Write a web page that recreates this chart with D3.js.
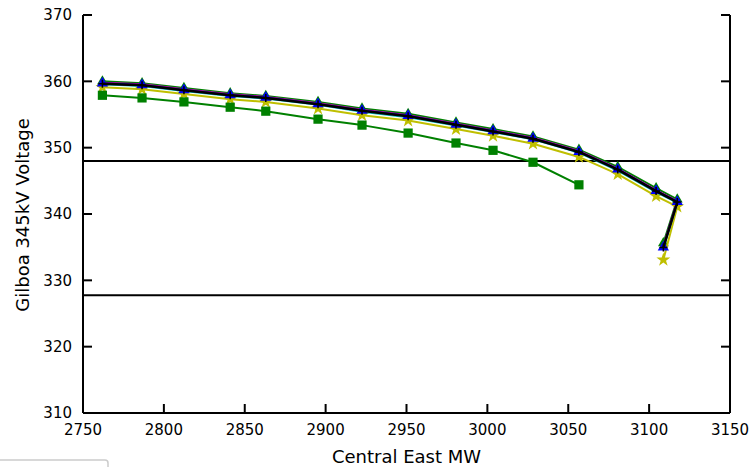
<!DOCTYPE html>
<html><head><meta charset="utf-8">
<script src="https://cdn.jsdelivr.net/npm/d3@7"></script>
<style>body{margin:0;background:#fff}svg{display:block}text{font-family:"DejaVu Sans",sans-serif;fill:#000}</style>
</head><body>
<script>
// ---- data ----
const xMW = [2762, 2786.5, 2812.4, 2841, 2863, 2895.3, 2922.5, 2951, 2980.6, 3003.5, 3028.2, 3056.6, 3080.6, 3104.3, 3117.4, 3108.8];
const greenV   = [360.0, 359.7, 359.0, 358.2, 357.8, 356.9, 355.9, 355.1, 353.8, 352.8, 351.7, 349.7, 347.1, 343.9, 342.2, 335.6];
const cyanV    = [359.55, 359.3, 358.55, 357.8, 357.4, 356.45, 355.4, 354.6, 353.35, 352.35, 351.25, 349.25, 346.55, 343.3, 341.7, 334.8];
const magentaV = [359.8, 359.55, 358.8, 358.05, 357.65, 356.7, 355.7, 354.9, 353.6, 352.6, 351.5, 349.5, 346.85, 343.6, 341.95, 335.1];
const redV     = [359.7, 359.45, 358.7, 357.95, 357.55, 356.6, 355.6, 354.8, 353.5, 352.5, 351.4, 349.4, 346.75, 343.5, 341.85, 335.0];
const blueV    = [359.7, 359.45, 358.7, 357.95, 357.55, 356.6, 355.6, 354.8, 353.5, 352.5, 351.4, 349.4, 346.75, 343.5, 341.85, 335.0];
const yellowV  = [359.1, 358.8, 358.1, 357.3, 356.9, 355.9, 354.9, 354.1, 352.8, 351.8, 350.6, 348.6, 346.0, 342.7, 341.1, 333.1];
const blackV   = [359.65, 359.4, 358.65, 357.9, 357.5, 356.55, 355.55, 354.75, 353.45, 352.45, 351.35, 349.35, 346.7, 343.45, 341.8, 334.95];
const squareX  = [2762, 2786.5, 2812.4, 2841, 2863, 2895.3, 2922.5, 2951, 2980.6, 3003.5, 3028.2, 3056.6];
const squareV  = [357.9, 357.5, 356.9, 356.1, 355.5, 354.3, 353.4, 352.2, 350.7, 349.6, 347.8, 344.4];
const limits   = [348, 327.75];
const xTicks = [2750, 2800, 2850, 2900, 2950, 3000, 3050, 3100, 3150];
const yTicks = [310, 320, 330, 340, 350, 360, 370];

const W = 752, H = 467;
const m = {l: 83, r: 752 - 730, t: 15, b: 467 - 413};
const svg = d3.select("body").append("svg").attr("width", W).attr("height", H);
const x = d3.scaleLinear().domain([2750, 3150]).range([m.l, W - m.r]);
const y = d3.scaleLinear().domain([310, 370]).range([H - m.b, m.t]);

// legend box remnant (cut off at bottom)
svg.append("rect").attr("x", -6).attr("y", 460).attr("width", 114).attr("height", 40).attr("rx", 3)
  .attr("fill", "#fff").attr("stroke", "#cccccc").attr("stroke-width", 1.5);

const g = svg.append("g");
// limit lines
limits.forEach(v => g.append("line").attr("x1", x(2750)).attr("x2", x(3150)).attr("y1", y(v)).attr("y2", y(v))
  .attr("stroke", "#000").attr("stroke-width", 2));

const line = d3.line().x(d => x(d[0])).y(d => y(d[1]));
function series(xs, vs, color, lw, marker, msize, mfill) {
  const pts = xs.map((d, i) => [d, vs[i]]);
  g.append("path").datum(pts).attr("d", line).attr("fill", "none").attr("stroke", color).attr("stroke-width", lw).attr("stroke-linejoin", "round");
  if (!marker) return;
  const sel = g.append("g").selectAll("path").data(pts).join("path")
    .attr("transform", d => `translate(${x(d[0])},${y(d[1])})`);
  if (marker === "plus") {
    sel.attr("d", "M-4,0H4M0,-4V4").attr("stroke", color).attr("stroke-width", 1.5).attr("fill", "none");
  } else {
    sel.attr("d", d3.symbol().type(marker).size(msize)).attr("fill", mfill || color).attr("stroke", "none");
  }
}
series(xMW, greenV, "#008000", 2, d3.symbolTriangle, 50);
series(xMW, yellowV, "#bfbf00", 2, d3.symbolStar, 60);
series(xMW, cyanV, "#00bfbf", 2, null);
series(xMW, magentaV, "#bf00bf", 2, null);
series(xMW, redV, "#ff0000", 2, d3.symbolCircle, 20);
series(xMW, blueV, "#0000ff", 2, d3.symbolTriangle, 55);
series(xMW, blackV, "#000000", 2.5, "plus");
series(squareX, squareV, "#008000", 2, d3.symbolSquare, 85);

// axes
const ax = svg.append("g");
const sp = (x1, y1, x2, y2) => ax.append("line").attr("x1", x1).attr("y1", y1).attr("x2", x2).attr("y2", y2).attr("stroke", "#000").attr("stroke-width", 2);
sp(x(2750), y(370), x(2750), y(310));
sp(x(2750), y(310), x(3150), y(310));
sp(x(3150), y(370), x(3150), y(310));
const tl = 9;
xTicks.forEach(t => {
  sp(x(t), y(310), x(t), y(310) - tl);
  ax.append("text").attr("x", x(t)).attr("y", 435).attr("text-anchor", "middle").attr("font-size", 15).text(t);
});
yTicks.forEach(t => {
  sp(x(2750), y(t), x(2750) + tl, y(t));
  sp(x(3150), y(t), x(3150) - tl, y(t));
  ax.append("text").attr("x", 72).attr("y", y(t)).attr("dy", "0.36em").attr("text-anchor", "end").attr("font-size", 15).text(t);
});
ax.append("text").attr("x", x(2950)).attr("y", 463).attr("text-anchor", "middle").attr("font-size", 18).text("Central East MW");
ax.append("text").attr("transform", `translate(29,${(y(310) + y(370)) / 2 + 1}) rotate(-90)`).attr("text-anchor", "middle").attr("font-size", 18).text("Gilboa 345kV Voltage");
</script>
</body></html>
